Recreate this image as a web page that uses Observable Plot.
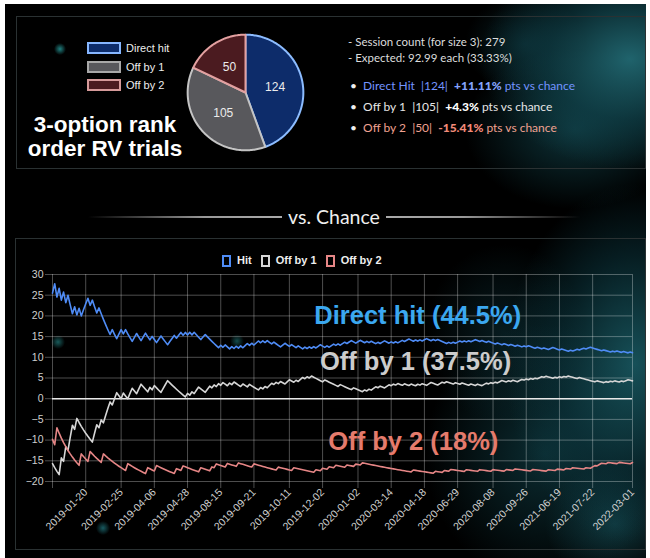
<!DOCTYPE html>
<html><head><meta charset="utf-8">
<script src="https://cdn.jsdelivr.net/npm/d3@7"></script>
<script src="https://cdn.jsdelivr.net/npm/@observablehq/plot@0.6"></script>
<style>
html,body{margin:0;padding:0;background:#fff;width:650px;height:558px;overflow:hidden;}
.abs{position:absolute;}
#frame{left:5px;top:4px;width:641px;height:554px;background:#000;}
.neb{pointer-events:none;}
.panel{border:1px solid #2a3132;box-sizing:border-box;}
.leg{position:absolute;left:87px;width:34px;height:12px;box-sizing:border-box;border:2px solid;}
.legt{position:absolute;left:126px;font:11px/12px "Liberation Sans",Arial,sans-serif;color:#eee;}
#title{left:20px;top:113px;width:170px;text-align:center;font:bold 22.5px/24px "Liberation Sans",Arial,sans-serif;color:#fff;}
.info{position:absolute;left:348px;font:11.5px/12px Lato,"Open Sans",sans-serif;color:#ddd;white-space:nowrap;}
.info b{font-weight:900;}
#vs{left:88px;top:205px;width:492px;height:24px;display:flex;align-items:center;}
#vs .ln{flex:1;height:1.5px;}
#vs span{font:19.5px/24px Lato,sans-serif;color:#eee;margin:0 6px;}
#leg2{left:222px;top:254px;display:flex;align-items:center;font:bold 11px/13px "Liberation Sans",Arial,sans-serif;color:#eee;}
#leg2 i{display:inline-block;width:9px;height:12px;box-sizing:border-box;border:2px solid;margin-right:6px;}
#leg2 s{text-decoration:none;margin-right:9px;}
</style></head><body>
<div id="frame" class="abs"></div>
<div class="abs neb" style="left:5px;top:4px;width:641px;height:554px;background:
 radial-gradient(ellipse 150px 110px at 625px 55px, rgba(35,110,120,0.9), rgba(18,75,85,0.55) 55%, rgba(0,0,0,0) 100%),
 radial-gradient(ellipse 110px 80px at 570px 125px, rgba(22,85,95,0.6), rgba(0,0,0,0) 100%),
 radial-gradient(ellipse 60px 50px at 520px 40px, rgba(18,70,80,0.45), rgba(0,0,0,0) 100%),
 radial-gradient(ellipse 130px 180px at 630px 360px, rgba(28,100,110,0.8), rgba(14,65,75,0.45) 60%, rgba(0,0,0,0) 100%),
 radial-gradient(ellipse 120px 130px at 540px 450px, rgba(20,80,90,0.55), rgba(0,0,0,0) 100%),
 radial-gradient(ellipse 80px 90px at 500px 330px, rgba(18,70,80,0.4), rgba(0,0,0,0) 100%),
 radial-gradient(ellipse 70px 60px at 610px 520px, rgba(25,90,100,0.6), rgba(0,0,0,0) 100%),
 radial-gradient(circle 6px at 55px 45px, rgba(40,160,160,0.8), rgba(0,0,0,0) 100%),
 radial-gradient(circle 7px at 53px 338px, rgba(40,150,150,0.6), rgba(0,0,0,0) 100%),
 radial-gradient(circle 7px at 232px 337px, rgba(40,150,150,0.5), rgba(0,0,0,0) 100%),
 radial-gradient(circle 7px at 98px 524px, rgba(40,150,160,0.6), rgba(0,0,0,0) 100%);"></div>
<div class="abs panel" style="left:16px;top:16px;width:630px;height:153px;"></div>
<div class="abs panel" style="left:15px;top:238px;width:631px;height:312px;"></div>

<div id="pieLegend"></div>
<div id="title" class="abs">3-option rank<br>order RV trials</div>
<div id="pie" class="abs" style="left:181px;top:28px;"></div>
<div id="info"></div>

<div id="vs" class="abs"><div class="ln" style="background:linear-gradient(to right,rgba(140,140,140,0),#999 60%,#aaa)"></div><span>vs. Chance</span><div class="ln" style="background:linear-gradient(to left,rgba(140,140,140,0),#999 60%,#aaa)"></div></div>
<div id="leg2" class="abs"></div>
<div id="chart" class="abs" style="left:15px;top:262px;"></div>

<script>
// ---- data ----
const categories = ["Direct hit", "Off by 1", "Off by 2"];
const counts = [124, 105, 50];
const seriesNames = ["Hit", "Off by 1", "Off by 2"];
// outcome of each of the 279 sessions: H = direct hit, O = off by 1, T = off by 2
const sessionOutcomes =
  "HTHOHHTHOHHTHHOTH" + "HTH" + "OHOHOOHO" + "HTHHHTH" + "OOHOTOOOHOO" + "HHOHT" +
  "OOHHOOHHT" + "OHOTHHOOOHHHT" + "HHTHOH" + "OHOOTH" + "HOOTOT" + "OHOHTOHOHT" +
  "HOHHOHTHHOHOH" + "OOHOTOH" + "HOOHTOHO" + "OHOHOH" + "THHTOHTH" + "HTHOHHTHHOTHHTOH" +
  "OHOOHOHHOOHOHOH" + "HOHHOTHOHOHHOOHTHO" + "OTOHTHOH" + "HOHTHOHHOTHO" + "OHOTOHOOHTOHOTH" +
  "OOHOHOTOHOOHOTH" + "HOTOHOTOHT" + "HHOHHTHH" + "TTOTTHOT" + "OHOHTOHOOHT";
const outcomeCodes = ["H", "O", "T"];
const firstPlottedSession = 17;
const chancePct = 100 / 3;
const tickSessions = [32, 48, 63, 78, 93, 108, 124, 139, 155, 170, 185, 200, 216, 231, 246, 261, 279];
const tickLabels = ["2019-01-20","2019-02-25","2019-04-06","2019-04-28","2019-08-15","2019-09-21","2019-10-11","2019-12-02","2020-01-02","2020-03-14","2020-04-18","2020-06-29","2020-08-08","2020-09-26","2021-06-19","2021-07-22","2022-03-01"];
const yTicks = [-20, -15, -10, -5, 0, 5, 10, 15, 20, 25, 30];
const annotationTexts = ["Direct hit (44.5%)", "Off by 1 (37.5%)", "Off by 2 (18%)"];
const annotationSessions = [182, 181, 180];
const annotationValues = [19.9, 8.9, -10.4];
const infoLines = ["- Session count (for size 3): 279", "- Expected: 92.99 each (33.33%)"];
const vsChance = ["+11.11%", "+4.3%", "-15.41%"];
const bulletNames = ["Direct Hit", "Off by 1", "Off by 2"];

// ---- styles ----
const lineColors = ["#4f8cf6", "#d6d6d6", "#e68686"];
const annColors = ["#3ba8f0", "#cccccc", "#e57b6c"];
const pieFill = ["#0d2c6a", "#58585c", "#4b1b20"];
const pieStroke = ["#8cbcff", "#c4c4c4", "#e3a0a0"];
const legStroke = ["#86b6ff", "#a8a8a8", "#d59a9a"];
const infoColors = ["#7394ff", "#e6e6e6", "#f0a291"];
const infoBold = ["#84a4ff", "#ffffff", "#f28a78"];

// ---- pie legend & info (HTML) ----
const pl = document.getElementById("pieLegend");
const legTops = [42, 61, 79];
categories.forEach((c, i) => {
  const b = document.createElement("div");
  b.className = "leg"; b.style.top = legTops[i] + "px";
  b.style.background = pieFill[i]; b.style.borderColor = legStroke[i];
  pl.appendChild(b);
  const t = document.createElement("div");
  t.className = "legt"; t.style.top = (legTops[i]) + "px"; t.textContent = c;
  pl.appendChild(t);
});
const info = document.getElementById("info");
[36, 52].forEach((top, i) => {
  const d = document.createElement("div");
  d.className = "info"; d.style.top = top + "px"; d.textContent = infoLines[i];
  info.appendChild(d);
});
[80, 101, 122].forEach((top, i) => {
  const d = document.createElement("div");
  d.className = "info"; d.style.top = top + "px"; d.style.left = "350px"; d.style.color = infoColors[i];
  d.style.fontSize = "12px";
  d.innerHTML = `<span style="color:#eee">•</span>&nbsp; ${bulletNames[i]} &nbsp;|${counts[i]}| &nbsp;<b style="color:${infoBold[i]}">${vsChance[i]}</b> pts vs chance`;
  info.appendChild(d);
});
const leg2 = document.getElementById("leg2");
seriesNames.forEach((s, i) => {
  leg2.insertAdjacentHTML("beforeend", `<i style="border-color:${lineColors[i]}"></i><s>${s}</s>`);
});

// ---- pie ----
const arcs = d3.pie().sort(null)(counts);
const slicePts = [];
const pieLabels = [];
arcs.forEach((a, k) => {
  slicePts.push({slice: k, x: 0, y: 0});
  const steps = Math.max(2, Math.ceil((a.endAngle - a.startAngle) / 0.02));
  for (let j = 0; j <= steps; j++) {
    const ang = a.startAngle + (a.endAngle - a.startAngle) * j / steps;
    slicePts.push({slice: k, x: Math.sin(ang), y: Math.cos(ang)});
  }
  const mid = (a.startAngle + a.endAngle) / 2;
  pieLabels.push({x: 0.52 * Math.sin(mid), y: 0.52 * Math.cos(mid), text: String(counts[k])});
});
const pie = Plot.plot({
  width: 128, height: 128, margin: 5,
  style: {background: "transparent", overflow: "visible"},
  x: {domain: [-1.02, 1.02], axis: null},
  y: {domain: [-1.02, 1.02], axis: null},
  marks: [
    Plot.line(slicePts, {x: "x", y: "y", z: "slice", curve: "linear-closed",
      fill: d => pieFill[d.slice], stroke: d => pieStroke[d.slice], strokeWidth: 2}),
    Plot.text(pieLabels, {x: "x", y: "y", text: "text", fill: "#ececec", fontSize: 12,
      fontFamily: "Liberation Sans, Arial, sans-serif"})
  ]
});
document.getElementById("pie").appendChild(pie);

// ---- line series ----
const rows = [];
const tally = {H: 0, O: 0, T: 0};
for (let i = 0; i < sessionOutcomes.length; i++) {
  tally[sessionOutcomes[i]]++;
  const n = i + 1;
  if (n >= firstPlottedSession) {
    outcomeCodes.forEach((code, k) => {
      rows.push({session: n, series: seriesNames[k], value: tally[code] / n * 100 - chancePct});
    });
  }
}
const labelOf = new Map(tickSessions.map((s, i) => [s, tickLabels[i]]));
const annotations = annotationTexts.map((t, i) => ({text: t, session: annotationSessions[i], value: annotationValues[i], color: annColors[i]}));

const chart = Plot.plot({
  width: 631, height: 283,
  marginLeft: 37, marginRight: 14, marginTop: 12, marginBottom: 64,
  style: {background: "transparent", color: "#cfcfcf", fontFamily: "Liberation Sans, Arial, sans-serif", fontSize: "10.5px", overflow: "visible"},
  x: {domain: [firstPlottedSession, 279], ticks: tickSessions, tickFormat: d => labelOf.get(d), tickRotate: -45, tickSize: 0, tickPadding: 9, label: null},
  y: {domain: [-20, 30], ticks: yTicks, tickSize: 0, tickPadding: 9, label: null},
  marks: [
    Plot.ruleY(yTicks, {stroke: "#ffffff", strokeOpacity: 0.3, insetLeft: -7}),
    Plot.ruleX([firstPlottedSession, ...tickSessions], {stroke: "#ffffff", strokeOpacity: 0.3, insetBottom: -7}),
    Plot.ruleY([0], {stroke: "#e8e8e8", strokeWidth: 1.6}),
    Plot.line(rows, {x: "session", y: "value", z: "series",
      stroke: d => lineColors[seriesNames.indexOf(d.series)], strokeWidth: 1.6}),
    Plot.text(annotations, {x: "session", y: "value", text: "text", fill: "color",
      fontSize: 25.5, fontWeight: "bold", fontFamily: "Liberation Sans, Arial, sans-serif"})
  ]
});
document.getElementById("chart").appendChild(chart);
</script>
</body></html>
